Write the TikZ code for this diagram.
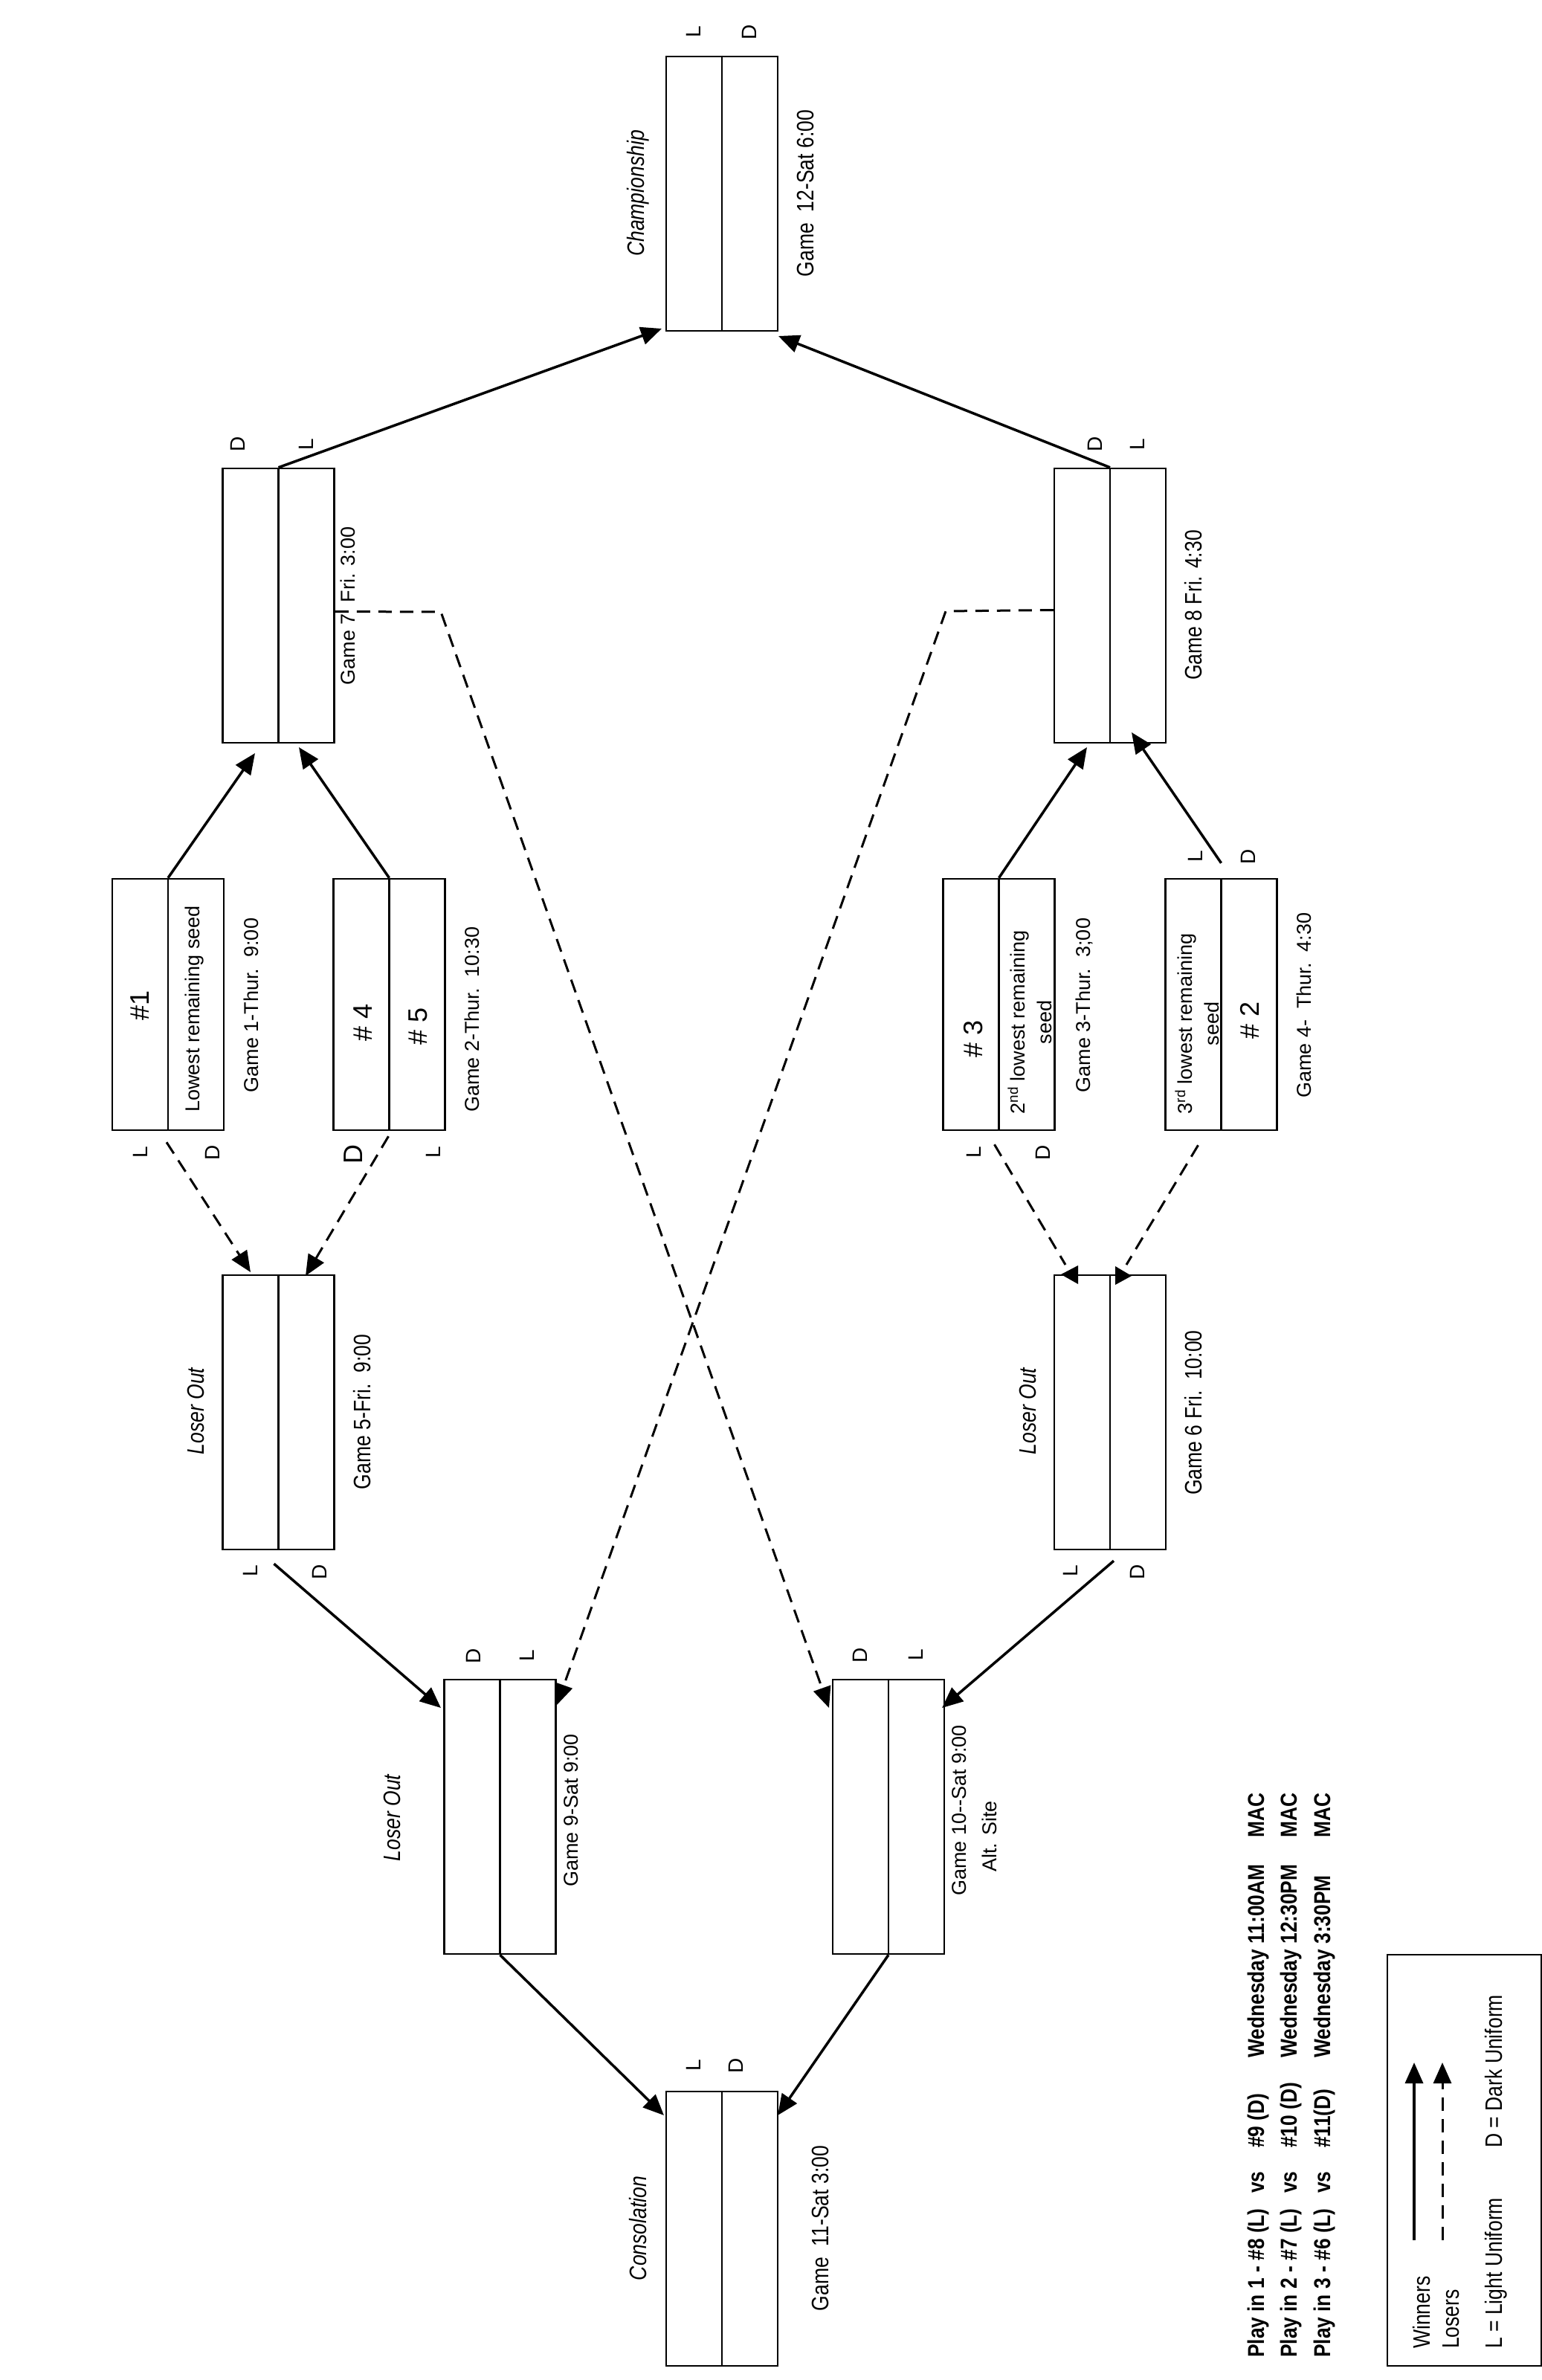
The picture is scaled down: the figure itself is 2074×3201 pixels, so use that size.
\documentclass[tikz,border=0pt]{standalone}
\usepackage{fontspec}
\setmainfont{Liberation Sans}
\newfontfamily\narrowfont[FakeStretch=0.83]{Liberation Sans}
\newfontfamily\narrowbold[FakeStretch=0.85]{Liberation Sans}
\usetikzlibrary{arrows.meta,calc}
\begin{document}
\begin{tikzpicture}[x=1pt,y=-1pt,
  gbox/.style={draw, line width=2.5pt, rectangle, inner sep=0pt, minimum width=150pt, minimum height=369pt},
  sbox/.style={gbox, minimum height=338pt},
  divider/.style={line width=2.5pt},
  rt/.style={rotate=90, inner sep=0pt, font=\fontsize{27}{36}\selectfont, align=center},
  nt/.style={rotate=90, inner sep=0pt, font=\narrowfont\fontsize{32}{38}\selectfont},
  nit/.style={rotate=90, inner sep=0pt, font=\narrowfont\itshape\fontsize{32}{38}\selectfont},
  seedno/.style={rotate=90, inner sep=0pt, font=\fontsize{36}{40}\selectfont},
  lab/.style={rotate=90, inner sep=0pt, font=\fontsize{28}{30}\selectfont},
  biglab/.style={rotate=90, inner sep=0pt, font=\fontsize{36}{38}\selectfont},
  playin/.style={rotate=90, inner sep=0pt, anchor=base west, font=\narrowbold\bfseries\fontsize{31}{36}\selectfont},
  legtext/.style={rotate=90, inner sep=0pt, anchor=base west, font=\narrowfont\fontsize{32}{36}\selectfont},
  winner/.style={line width=3.5pt, -{Triangle[length=28pt,width=24pt]}},
  loser/.style={line width=3pt, dash pattern=on 18pt off 11pt, -{Triangle[length=28pt,width=24pt]}},
  loserline/.style={line width=3pt, dash pattern=on 18pt off 11pt},
]
\fill[white] (0,0) rectangle (2074,3201);
\useasboundingbox (0,0) rectangle (2074,3201);

% ---------- game boxes ----------
\node[gbox] (g12) at (971,260.5) {};
\node[gbox] (g7) at (374.5,814.5) {};
\node[gbox] (g8) at (1493,814.5) {};
\node[sbox] (g1) at (226,1351) {};
\node[sbox] (g2) at (523.5,1351) {};
\node[sbox] (g3) at (1343.5,1351) {};
\node[sbox] (g4) at (1642.5,1351) {};
\node[gbox] (g5) at (374.5,1899.5) {};
\node[gbox] (g6) at (1493,1899.5) {};
\node[gbox] (g9) at (672.5,2443.5) {};
\node[gbox] (g10) at (1195,2443.5) {};
\node[gbox] (g11) at (971,2997.5) {};
\foreach \n in {g12,g7,g8,g1,g2,g3,g4,g5,g6,g9,g10,g11}
  \draw[divider] (\n.north) -- (\n.south);

% ---------- texts ----------
\node[nit] (tch) at (858,260) {Championship};
\node[nt] (t12) at (1083,260) {Game\ \ 12-Sat 6:00};

\node[rt] (t7) at (468,815) {Game 7\ \ Fri. 3:00};
\node[nt] (t8) at (1605,814) {Game 8 Fri. 4:30};

\node[seedno] (s1) at (188,1352) {\#1};
\node[rt] (s1b) at (262,1357) {Lowest remaining seed};
\node[rt] (t1) at (338,1352) {Game 1-Thur.\ \ 9:00};

\node[seedno] (s4) at (488,1375) {\# 4};
\node[seedno] (s5) at (562,1380) {\# 5};
\node[rt] (t2) at (635,1371) {Game 2-Thur.\ \ 10:30};

\node[seedno] (s3) at (1309,1397) {\# 3};
\node[rt] (s3b) at (1385,1375) {2\textsuperscript{nd} lowest remaining\\seed};
\node[rt] (t3) at (1458,1352) {Game 3-Thur.\ \ 3;00};

\node[rt] (s2b) at (1610,1377) {3\textsuperscript{rd} lowest remaining\\seed};
\node[seedno] (s2) at (1681,1372) {\# 2};
\node[rt] (t4) at (1754,1352) {Game 4-\ \ Thur.\ \ 4:30};

\node[nit] (lo5) at (263,1898) {Loser Out};
\node[nt] (t5) at (487,1899) {Game 5-Fri.\ \ 9:00};
\node[nit] (lo6) at (1382,1898) {Loser Out};
\node[nt] (t6) at (1605,1900) {Game 6 Fri.\ \ 10:00};

\node[nit] (lo9) at (527,2445) {Loser Out};
\node[rt] (t9) at (768,2435) {Game 9-Sat 9:00};
\node[rt] (t10) at (1290,2435) {Game 10{-}{-}Sat 9:00};
\node[rt] (t10b) at (1331,2470) {Alt. Site};

\node[nit] (tcons) at (858,2997) {Consolation};
\node[nt] (t11) at (1103,2997) {Game\ \ 11-Sat 3:00};

% ---------- L / D labels ----------
\node[lab] at (933,43) {L};   \node[lab] at (1008,43) {D};
\node[lab] at (320,597) {D};  \node[lab] at (412,598) {L};
\node[lab] at (1473,597) {D}; \node[lab] at (1530,598) {L};
\node[lab] at (189,1550) {L}; \node[lab] at (286,1550) {D};
\node[biglab] at (475,1552) {D}; \node[lab] at (583,1550) {L};
\node[lab] at (1310,1550) {L}; \node[lab] at (1403,1550) {D};
\node[lab] at (1608,1152) {L}; \node[lab] at (1679,1152) {D};
\node[lab] at (337,2113) {L}; \node[lab] at (430,2114) {D};
\node[lab] at (1440,2113) {L}; \node[lab] at (1530,2114) {D};
\node[lab] at (637,2227) {D}; \node[lab] at (709,2227) {L};
\node[lab] at (1157,2226) {D}; \node[lab] at (1232,2226) {L};
\node[lab] at (933,2778) {L}; \node[lab] at (990,2778) {D};

% ---------- connector end points ----------
\coordinate (a7l) at (343,1013);
\coordinate (a7r) at (402,1005);
\coordinate (a8l) at (1462,1005);
\coordinate (a8r) at (1522,985);
\coordinate (a12l) at (890,442);
\coordinate (a12r) at (1047,452);
\coordinate (a9l) at (593,2297);
\coordinate (a10r) at (1267,2297);
\coordinate (a11l) at (893,2845);
\coordinate (a11r) at (1046,2845);
\coordinate (a5l) at (337,1711);
\coordinate (a5r) at (411,1716);
\coordinate (a9r) at (749,2293);
\coordinate (a10l) at (1115,2297);
\coordinate (k7) at (593,823);
\coordinate (k8) at (1272,822);
\coordinate (e6l) at (1433,1701);
\coordinate (e6r) at (1515,1701);
\coordinate (h6l) at (1427,1714);
\coordinate (h6r) at (1522,1716);

% ---------- winners ----------
\draw[winner] (g1.north) -- (a7l);
\draw[winner] (g2.north) -- (a7r);
\draw[winner] (g3.north) -- (a8l);
\draw[winner] ($(g4.north)+(0,-20)$) -- (a8r);
\draw[winner] (g7.north) -- (a12l);
\draw[winner] (g8.north) -- (a12r);
\draw[winner] ($(g5.south)+(-6,18)$) -- (a9l);
\draw[winner] ($(g6.south)+(5,14)$) -- (a10r);
\draw[winner] (g9.south) -- (a11l);
\draw[winner] (g10.south) -- (a11r);

% ---------- losers ----------
\draw[loser] ($(g1.south)+(-2,15)$) -- (a5l);
\draw[loser] ($(g2.south)+(-1,7)$) -- (a5r);
\draw[loserline] ($(g3.south)+(-6,18)$) -- (e6l);
\draw[loserline] ($(g4.south)+(-31,19)$) -- (e6r);
\fill (h6l) -- ++(23,-12) -- ++(0,25) -- cycle;
\fill (h6r) -- ++(-22,-13) -- ++(0,25) -- cycle;
\draw[loser] ($(g7.east)+(0,8)$) -- (k7) -- (a10l);
\draw[loser] ($(g8.west)+(0,6)$) -- (k8) -- (a9r);

% ---------- play-in lines ----------
\node[playin] at (1700,3171) {Play in 1 - \#8 (L)};
\node[playin] at (1700,2950) {vs};
\node[playin] at (1700,2889) {\#9 (D)};
\node[playin] at (1700,2768) {Wednesday 11:00AM};
\node[playin] at (1700,2472) {MAC};

\node[playin] at (1744,3171) {Play in 2 - \#7 (L)};
\node[playin] at (1744,2950) {vs};
\node[playin] at (1744,2889) {\#10 (D)};
\node[playin] at (1744,2768) {Wednesday 12:30PM};
\node[playin] at (1744,2472) {MAC};

\node[playin] at (1789,3171) {Play in 3 - \#6 (L)};
\node[playin] at (1789,2950) {vs};
\node[playin] at (1789,2889) {\#11(D)};
\node[playin] at (1789,2768) {Wednesday 3:30PM};
\node[playin] at (1789,2472) {MAC};

% ---------- legend ----------
\node[draw, line width=2.5pt, rectangle, inner sep=0pt, minimum width=207pt, minimum height=553pt] (legend) at (1969.5,2905.5) {};
\coordinate (lw1) at (1902,3013); \coordinate (lw2) at (1902,2774);
\coordinate (ll1) at (1940,3013); \coordinate (ll2) at (1940,2774);
\draw[winner] (lw1) -- (lw2);
\draw[loser] (ll1) -- (ll2);
\node[legtext] at (1923,3159) {Winners};
\node[legtext] at (1962,3159) {Losers};
\node[legtext] at (2020,3159) {L = Light Uniform};
\node[legtext] at (2020,2889) {D = Dark Uniform};
\end{tikzpicture}
\end{document}
